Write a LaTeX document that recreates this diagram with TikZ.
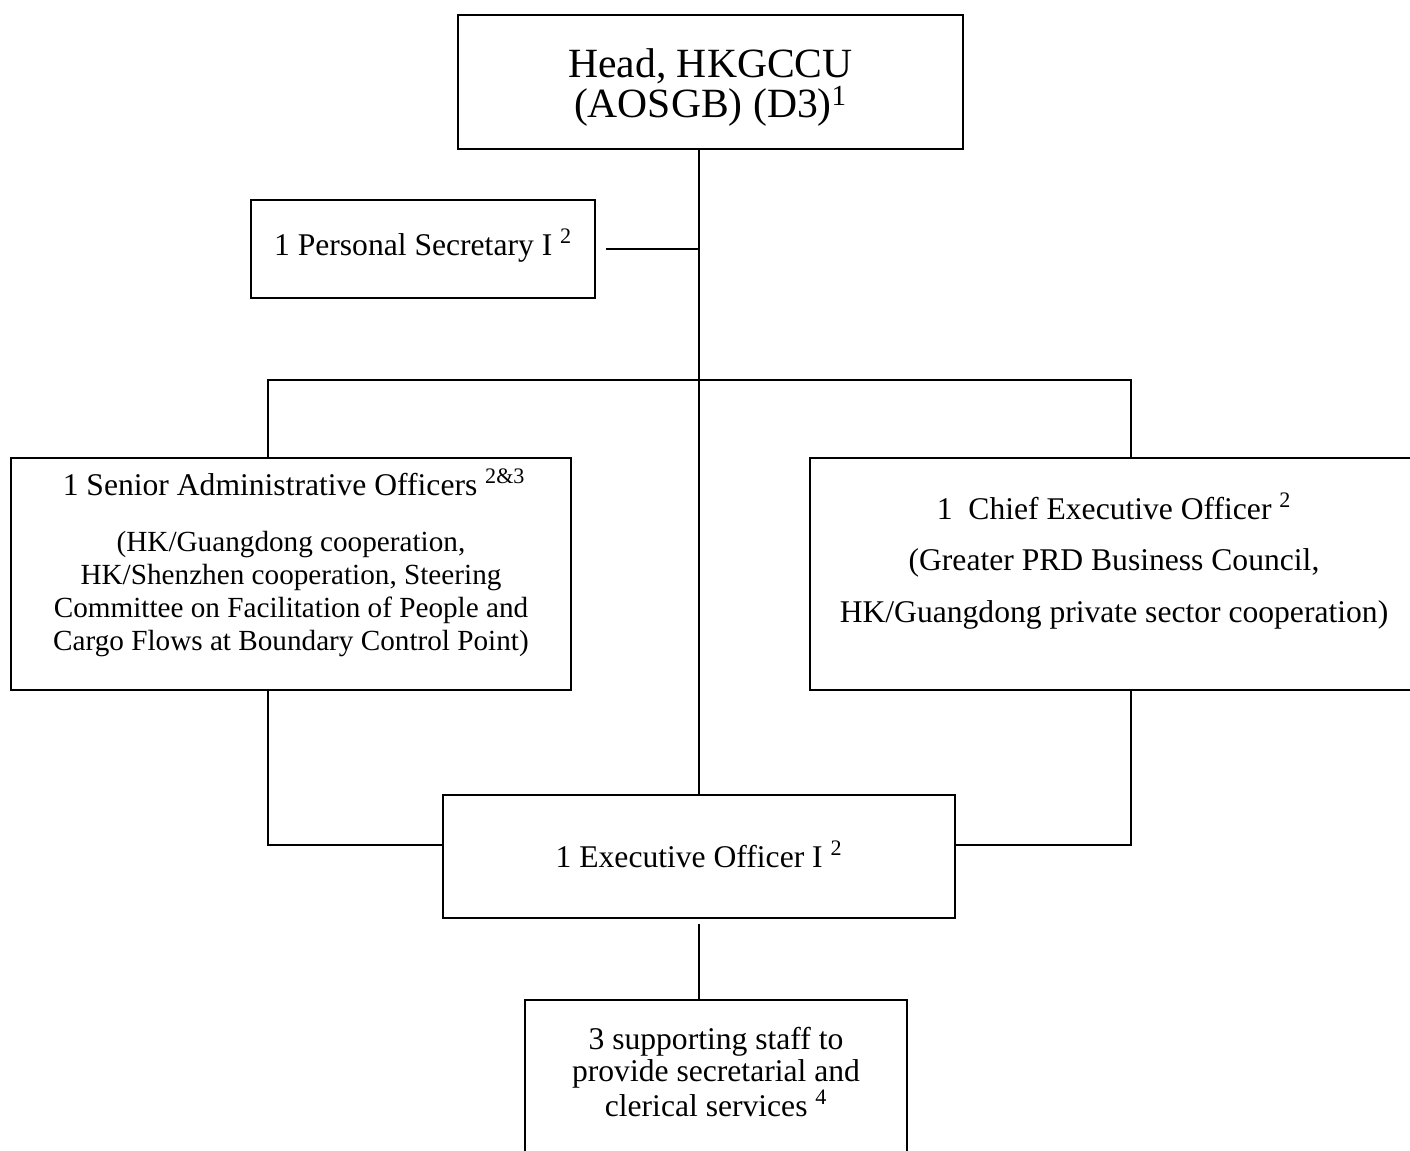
\documentclass[tikz,border=0pt]{standalone}
\usepackage{fontspec}
\setmainfont{Liberation Serif}

\tikzset{
  box/.style 2 args={draw, rectangle, line width=1.4pt, inner sep=0pt,
    minimum width=#1*0.75pt, minimum height=#2*0.75pt},
  link/.style={line width=1.4pt},
  body/.style={align=center, inner sep=0pt, font=\fontsize{23.7}{24.4}\selectfont},
}

\begin{document}
\begin{tikzpicture}[x=0.75pt, y=-0.75pt]
\useasboundingbox (0,0) rectangle (1410,1151);
% boxes
\node[box={505}{134}] (head) at (710.5,82) {};
\node[box={344}{98}] (ps) at (423,249) {};
\node[box={560}{232}] (sao) at (291,574) {};
\node[box={608}{232}] (ceo) at (1114,574) {};
\node[box={512}{123}] (eo) at (699,856.5) {};
\node[box={382}{165}] (staff) at (716,1082.5) {};
% texts
\node[body, font=\fontsize{31.2}{30}\selectfont] (head-text) at (710.5,88)
  {Head, HKGCCU\\(AOSGB) (D3)\textsuperscript{1}};
\node[body] (ps-text) at (423,246) {1 Personal Secretary I \textsuperscript{2}};
\node[body] (sao-title) at (294,482) {1 Senior Administrative Officers \textsuperscript{2\&3}};
\node[body, font=\fontsize{21.9}{24.75}\selectfont] (sao-text) at (291,594.5)
  {(HK/Guangdong cooperation,\\HK/Shenzhen cooperation, Steering\\
   Committee on Facilitation of People and\\Cargo Flows at Boundary Control Point)};
\node[body, font=\fontsize{23.7}{38.6}\selectfont] (ceo-text) at (1114,561)
  {1\ \ Chief Executive Officer \textsuperscript{2}\\(Greater PRD Business Council,\\
   HK/Guangdong private sector cooperation)};
\node[body] (eo-text) at (699,854) {1 Executive Officer I \textsuperscript{2}};
\node[body] (staff-text) at (716,1072)
  {3 supporting staff to\\provide secretarial and\\clerical services \textsuperscript{4}};
% connectors
\coordinate (sao-drop) at (268,380);
\coordinate (ceo-drop) at (1131,380);
\coordinate (sao-join) at (268,845);
\coordinate (ceo-join) at (1131,845);
\draw[link] (eo.north |- head.south) -- (eo.north);
\draw[link, shorten <=7.5pt] (ps.east) -- (ps.east -| eo.north);
\draw[link] (sao.north -| sao-drop) -- (sao-drop) -- (ceo-drop) -- (ceo.north -| ceo-drop);
\draw[link] (sao.south -| sao-join) -- (sao-join) -- (sao-join -| eo.west);
\draw[link] (ceo.south -| ceo-join) -- (ceo-join) -- (ceo-join -| eo.east);
\draw[link, shorten <=3.75pt] (eo.south) -- (staff.north -| eo.south);
\end{tikzpicture}
\end{document}
